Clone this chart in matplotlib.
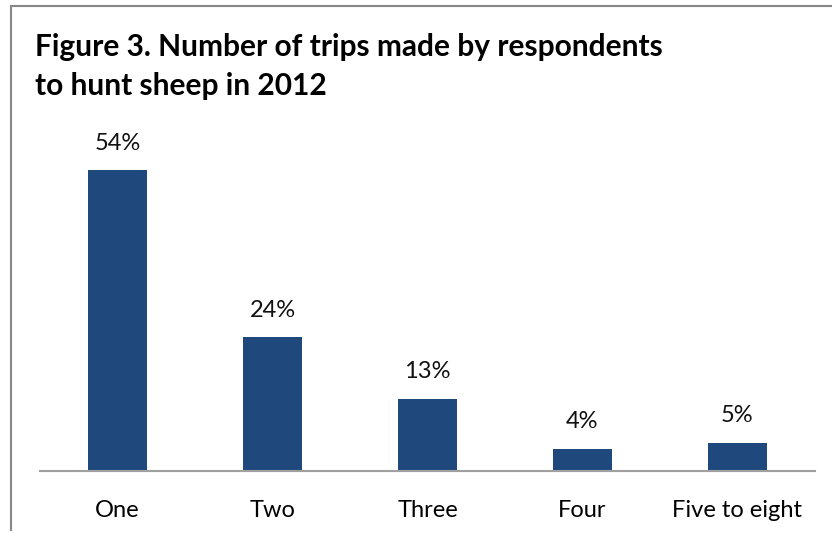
import matplotlib.pyplot as plt
from matplotlib.lines import Line2D

categories = ["One", "Two", "Three", "Four", "Five to eight"]
shares = [54, 24, 13, 4, 5]
title = "Figure 3. Number of trips made by respondents\nto hunt sheep in 2012"

W, H = 832, 533
fig = plt.figure(figsize=(W / 100, H / 100), dpi=100)
plt.rcParams['font.family'] = ['Lato', 'DejaVu Sans']

# axes placed in pixel coords: x 40..815, baseline at y=471
ax = fig.add_axes([40 / W, (H - 471) / H, 775 / W, 334 / H])
x = range(len(categories))
ax.bar(x, shares, width=0.387, color='#1f497d')
for i, v in zip(x, shares):
    ax.text(i, v + 3.0, f"{v}%", ha='center', va='bottom', fontsize=17, color='#111111')

ax.set_xlim(-0.5, 4.5)
ax.set_ylim(0, 60)
ax.set_xticks(list(x))
ax.set_xticklabels(categories, fontsize=17)
ax.tick_params(axis='x', length=0, pad=21)
ax.set_yticks([])
for s in ['top', 'right', 'left']:
    ax.spines[s].set_visible(False)
ax.spines['bottom'].set_color('#a0a0a0')
ax.spines['bottom'].set_linewidth(1.5)

fig.text(35 / W, 1 - 33 / H, title, fontsize=21.5, fontweight='bold',
         ha='left', va='top', linespacing=1.5)

# outer frame (top and left only)
fig.add_artist(Line2D([11 / W, 1], [1 - 6 / H, 1 - 6 / H], color='#888888', lw=1.5))
fig.add_artist(Line2D([11 / W, 11 / W], [1 - 6 / H, 1 - 530 / H], color='#888888', lw=1.5))

fig.savefig('out.png', dpi=100)
